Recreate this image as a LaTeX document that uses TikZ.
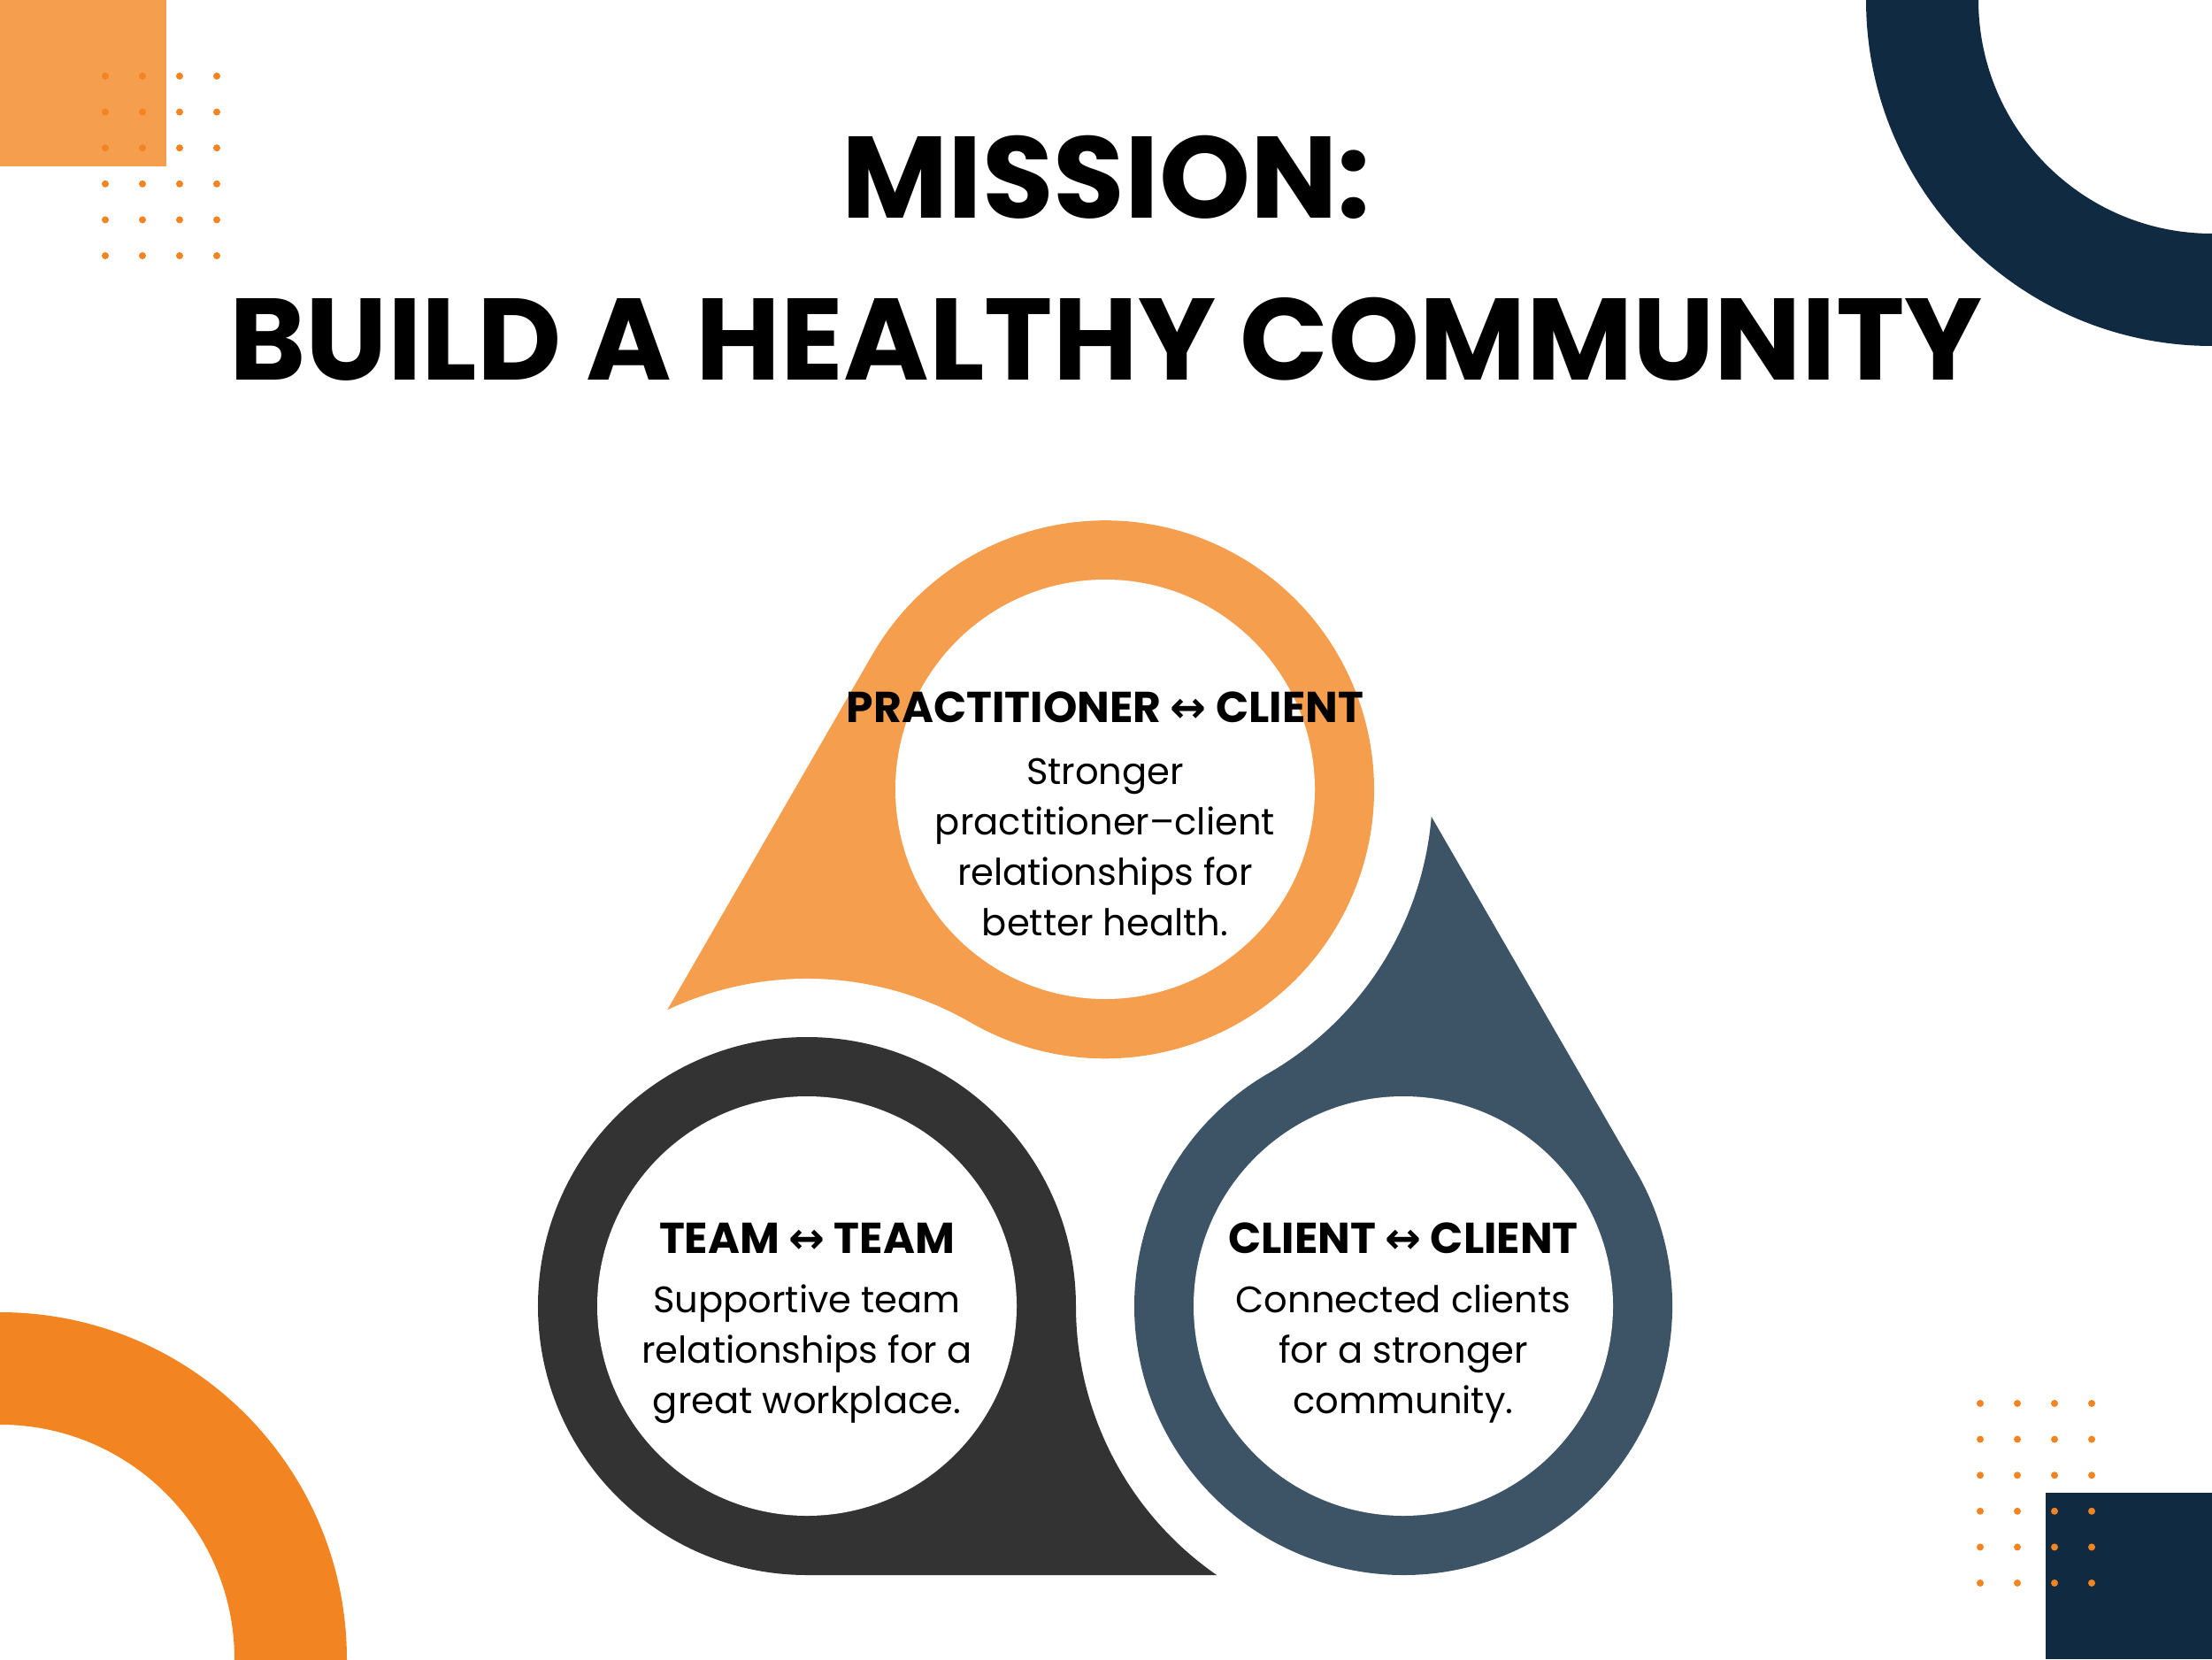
\documentclass[tikz,border=0pt]{standalone}
\usepackage{fontspec}
\setmainfont{Poppins}
\newfontfamily\arrowfont{DejaVu Sans}
\usetikzlibrary{positioning}
\definecolor{sandorange}{RGB}{245,158,78}
\definecolor{brightorange}{RGB}{242,133,34}
\definecolor{navy}{RGB}{16,42,66}
\definecolor{charcoal}{RGB}{51,51,51}
\definecolor{slate}{RGB}{61,84,103}

\begin{document}
\begin{tikzpicture}[
    hole/.style={circle, fill=white, minimum size=4.74cm, inner sep=0pt},
    title/.style={font=\fontsize{37.3}{52}\selectfont\bfseries, inner sep=0pt},
    heading/.style={font=\fontsize{13.9}{17}\selectfont\bfseries, inner sep=0pt},
    body/.style={align=center, font=\fontsize{11.85}{16.2}\selectfont, inner sep=0pt},
    dot/.style={fill=brightorange}
]
    \useasboundingbox (0,0) rectangle (25,18.75);

    % corners
    \begin{scope}
        \clip (0,0) rectangle (25,18.75);
        \fill[sandorange] (0,16.87) rectangle (1.88,18.75);
        \fill[navy] (23.12,0) rectangle (25,1.88);
        \fill[navy, even odd rule] (25,18.75) circle (3.91) circle (2.64);
        \fill[brightorange, even odd rule] (0,0) circle (3.92) circle (2.65);
    \end{scope}
    \foreach \i in {0,...,3}
        \foreach \j in {0,...,5} {
            \fill[dot] (1.19+0.42*\i, 17.89-0.406*\j) circle (0.04);
            \fill[dot] (22.38+0.42*\i, 2.89-0.406*\j) circle (0.04);
        }

    % title
    \node[title, anchor=base] (mission) at (12.5,16.28) {MISSION:};
    \node[title, anchor=base] (goal) at (12.5,14.45) {BUILD A HEALTHY COMMUNITY};

    % drops
    \fill[charcoal] (9.12,0.95) -- (13.751,0.95)
        arc[start angle=235.25, end angle=180, radius=3.70]
        arc[start angle=0, end angle=270, radius=3.04] -- cycle;
    \fill[slate, rotate around={120:(12.49,5.936)}] (9.12,0.95) -- (13.751,0.95)
        arc[start angle=235.25, end angle=180, radius=3.70]
        arc[start angle=0, end angle=270, radius=3.04] -- cycle;
    \fill[sandorange, rotate around={240:(12.49,5.936)}] (9.12,0.95) -- (13.751,0.95)
        arc[start angle=235.25, end angle=180, radius=3.70]
        arc[start angle=0, end angle=270, radius=3.04] -- cycle;

    \node[hole] (practitioner) at (12.49,9.83) {};
    \node[hole] (team) at (9.12,3.99) {};
    \node[hole] (client) at (15.86,3.99) {};

    % texts (base = last line)
    \node[heading, anchor=base] (practitionerhead) at (12.49,10.59) {PRACTITIONER {\arrowfont ↔} CLIENT};
    \node[body, anchor=base] (practitionertext) at (12.49,8.18) {Stronger\\practitioner–client\\relationships for\\better health.};

    \node[heading, anchor=base] (teamhead) at (9.12,4.59) {TEAM {\arrowfont ↔} TEAM};
    \node[body, anchor=base] (teamtext) at (9.12,2.78) {Supportive team\\relationships for a\\great workplace.};

    \node[heading, anchor=base] (clienthead) at (15.86,4.59) {CLIENT {\arrowfont ↔} CLIENT};
    \node[body, anchor=base] (clienttext) at (15.86,2.78) {Connected clients\\for a stronger\\community.};
\end{tikzpicture}
\end{document}
